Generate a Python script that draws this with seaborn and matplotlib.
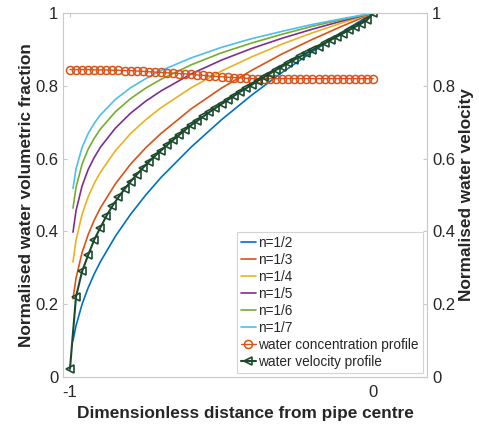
import numpy as np
import pandas as pd
import matplotlib
matplotlib.use("Agg")
import matplotlib.pyplot as plt
import seaborn as sns

# ---- data ----
x_pow = [-0.99, -0.98, -0.96, -0.94, -0.92, -0.90, -0.85, -0.80, -0.75, -0.70,
         -0.60, -0.50, -0.40, -0.30, -0.20, -0.10, 0.0]
n_labels = ["n=1/2", "n=1/3", "n=1/4", "n=1/5", "n=1/6", "n=1/7"]
y_n2 = [0.100, 0.141, 0.200, 0.245, 0.283, 0.316, 0.387, 0.447, 0.500, 0.548,
        0.632, 0.707, 0.775, 0.837, 0.894, 0.949, 1.0]
y_n3 = [0.215, 0.271, 0.342, 0.391, 0.431, 0.464, 0.531, 0.585, 0.630, 0.669,
        0.737, 0.794, 0.843, 0.888, 0.928, 0.965, 1.0]
y_n4 = [0.316, 0.376, 0.447, 0.495, 0.532, 0.562, 0.622, 0.669, 0.707, 0.740,
        0.795, 0.841, 0.880, 0.915, 0.946, 0.974, 1.0]
y_n5 = [0.398, 0.457, 0.525, 0.570, 0.603, 0.631, 0.684, 0.725, 0.758, 0.786,
        0.833, 0.871, 0.903, 0.931, 0.956, 0.979, 1.0]
y_n6 = [0.464, 0.521, 0.585, 0.626, 0.656, 0.681, 0.729, 0.765, 0.794, 0.818,
        0.858, 0.891, 0.918, 0.942, 0.964, 0.983, 1.0]
y_n7 = [0.518, 0.572, 0.631, 0.669, 0.697, 0.720, 0.763, 0.795, 0.820, 0.842,
        0.877, 0.906, 0.930, 0.950, 0.969, 0.985, 1.0]

x_prof = [-1.00, -0.98, -0.96, -0.94, -0.92, -0.90, -0.88, -0.86, -0.84, -0.82,
          -0.80, -0.78, -0.76, -0.74, -0.72, -0.70, -0.68, -0.66, -0.64, -0.62,
          -0.60, -0.58, -0.56, -0.54, -0.52, -0.50, -0.48, -0.46, -0.44, -0.42,
          -0.40, -0.38, -0.36, -0.34, -0.32, -0.30, -0.28, -0.26, -0.24, -0.22,
          -0.20, -0.18, -0.16, -0.14, -0.12, -0.10, -0.08, -0.06, -0.04, -0.02, 0.00]
conc = [0.845, 0.845, 0.845, 0.845, 0.844, 0.844, 0.844, 0.843, 0.843, 0.842,
        0.842, 0.841, 0.840, 0.839, 0.838, 0.837, 0.836, 0.835, 0.834, 0.833,
        0.832, 0.830, 0.829, 0.827, 0.826, 0.825, 0.824, 0.823, 0.822, 0.821,
        0.820, 0.820, 0.820, 0.820, 0.820, 0.820, 0.820, 0.820, 0.820, 0.820,
        0.820, 0.820, 0.820, 0.820, 0.820, 0.820, 0.820, 0.820, 0.820, 0.820, 0.820]
vel = [0.022, 0.221, 0.290, 0.335, 0.377, 0.410, 0.442, 0.470, 0.494, 0.516,
       0.537, 0.556, 0.574, 0.591, 0.607, 0.622, 0.637, 0.651, 0.665, 0.679,
       0.692, 0.704, 0.716, 0.728, 0.739, 0.750, 0.761, 0.772, 0.783, 0.793,
       0.803, 0.814, 0.824, 0.834, 0.844, 0.853, 0.863, 0.872, 0.881, 0.890,
       0.899, 0.908, 0.917, 0.926, 0.935, 0.944, 0.953, 0.962, 0.971, 0.981, 1.000]

colors = ["#0072BD", "#D95319", "#EDB120", "#7E2F8E", "#77AC30", "#4DBEEE"]
conc_color = "#D95319"
vel_color = "#1C4A2E"

# ---- style ----
sns.set_style("white")
plt.rcParams["font.family"] = ["Liberation Sans", "DejaVu Sans"]
plt.rcParams["axes.edgecolor"] = "#c8c8c8"
plt.rcParams["axes.linewidth"] = 0.8

fig = plt.figure(figsize=(4.79, 4.24), dpi=100)
ax = fig.add_axes([0.1315, 0.111, 0.76, 0.858])

df_pow = pd.DataFrame({
    "x": x_pow * 6,
    "y": y_n2 + y_n3 + y_n4 + y_n5 + y_n6 + y_n7,
    "n": sum([[lab] * len(x_pow) for lab in n_labels], []),
})
sns.lineplot(data=df_pow, x="x", y="y", hue="n", palette=colors,
             hue_order=n_labels, linewidth=1.2, ax=ax, sort=False)

df_c = pd.DataFrame({"x": x_prof, "y": conc})
sns.lineplot(data=df_c, x="x", y="y", ax=ax, color=conc_color, linewidth=1.0,
             marker="o", markersize=5.8, markerfacecolor="none",
             markeredgecolor=conc_color, markeredgewidth=1.1,
             label="water concentration profile")
df_v = pd.DataFrame({"x": x_prof, "y": vel})
sns.lineplot(data=df_v, x="x", y="y", ax=ax, color=vel_color, linewidth=1.5,
             marker="<", markersize=5.8, markerfacecolor="none",
             markeredgecolor=vel_color, markeredgewidth=1.2,
             label="water velocity profile")

ax.set_xlim(-1.023, 0.178)
ax.set_ylim(0, 1)
ax.set_xticks([-1, 0])
ax.set_xticklabels(["-1", "0"])
ax.set_yticks([0, 0.2, 0.4, 0.6, 0.8, 1.0])
ax.set_yticklabels(["0", "0.2", "0.4", "0.6", "0.8", "1"])
ax.tick_params(direction="in", length=3, color="#c8c8c8", labelsize=12,
               labelcolor="#262626", top=True)
ax.tick_params(axis="x", pad=6)
ax.set_xlabel("Dimensionless distance from pipe centre", fontsize=12.4,
              fontweight="bold", labelpad=4)
ax.set_ylabel("Normalised water volumetric fraction", fontsize=12.4,
              fontweight="bold", labelpad=1)

ax2 = ax.twinx()
ax2.set_ylim(0, 1)
ax2.set_yticks([0, 0.2, 0.4, 0.6, 0.8, 1.0])
ax2.set_yticklabels(["0", "0.2", "0.4", "0.6", "0.8", "1"])
ax2.tick_params(direction="in", length=3, color="#c8c8c8", labelsize=12,
                labelcolor="#262626")
ax2.set_ylabel("Normalised water velocity", fontsize=12.4, fontweight="bold",
               labelpad=3)
for sp in ax2.spines.values():
    sp.set_visible(False)

leg = ax.legend(loc="lower right", fontsize=9.8, frameon=True, fancybox=False,
                edgecolor="#c8c8c8", handlelength=1.15, handletextpad=0.15,
                labelspacing=0.22, borderpad=0.3, borderaxespad=0.3)
leg.get_frame().set_linewidth(0.8)

fig.savefig("out.png", dpi=100)
